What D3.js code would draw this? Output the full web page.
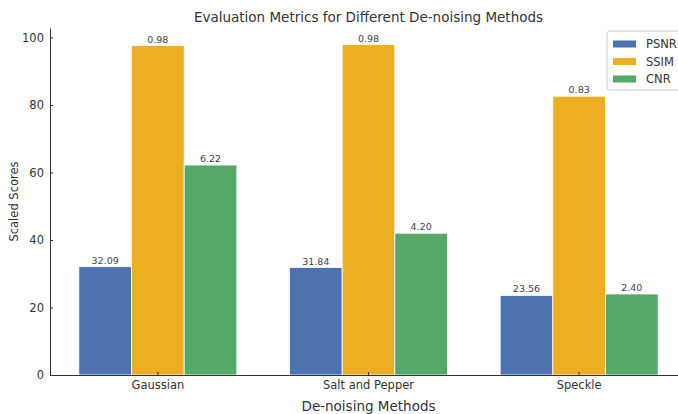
<!DOCTYPE html>
<html>
<head>
<meta charset="utf-8">
<script src="https://cdn.jsdelivr.net/npm/d3@7"></script>
<style>
  body { margin: 0; background: #fff; }
  text { font-family: "DejaVu Sans", sans-serif; fill: #333; }
</style>
</head>
<body>
<div id="container"></div>
<script>
// data
const methods = ["Gaussian", "Salt and Pepper", "Speckle"]
const metrics = ["PSNR", "SSIM", "CNR"]
const psnr = [32.09, 31.84, 23.56]
const ssim = [0.976, 0.979, 0.826]
const cnr = [6.22, 4.20, 2.40]
const scaleFactors = [1, 100, 10]   // how each metric is scaled for plotting
const colors = ["#4c72b0", "#ecae22", "#55a868"]
const yTicks = [0, 20, 40, 60, 80, 100]

const width = 678, height = 414
const margin = {top: 28, right: -9, bottom: 39, left: 50}

const values = [psnr, ssim, cnr]
const rows = methods.map((m, i) => ({
  method: m,
  bars: metrics.map((k, j) => ({key: k, raw: values[j][i], scaled: values[j][i] * scaleFactors[j], color: colors[j]}))
}))

const svg = d3.select("#container")
  .append("svg")
    .attr("width", width)
    .attr("height", height)

const x0 = d3.scaleBand()
  .domain(methods)
  .range([margin.left, width - margin.right])
  .paddingInner(0.25)
  .paddingOuter(0.137)

const x1 = d3.scaleBand()
  .domain(metrics)
  .range([0, x0.bandwidth()])

const yMax = d3.max(rows, r => d3.max(r.bars, b => b.scaled)) * 1.05
const y = d3.scaleLinear()
  .domain([0, yMax])
  .range([height - margin.bottom, margin.top])

// BARS
const groups = svg.selectAll("g.group")
  .data(rows)
  .enter()
  .append("g")
    .attr("class", "group")
    .attr("transform", d => "translate(" + x0(d.method) + ",0)")

groups.selectAll("rect")
  .data(d => d.bars)
  .enter()
  .append("rect")
    .attr("x", d => x1(d.key))
    .attr("y", d => y(d.scaled))
    .attr("width", x1.bandwidth())
    .attr("height", d => y(0) - y(d.scaled))
    .attr("fill", d => d.color)
    .attr("stroke", "#fff")
    .attr("stroke-width", 0.8)

groups.selectAll("text.val")
  .data(d => d.bars)
  .enter()
  .append("text")
    .attr("class", "val")
    .attr("x", d => x1(d.key) + x1.bandwidth() / 2)
    .attr("y", d => y(d.scaled) - 3)
    .attr("text-anchor", "middle")
    .style("font-size", "9.5px")
    .style("fill", "#444")
    .text(d => d.raw.toFixed(2))

// AXES
const xAxis = svg.append("g")
  .attr("transform", "translate(0," + y(0) + ")")
  .call(d3.axisBottom(x0).tickSizeInner(-3).tickSizeOuter(0).tickPadding(6))
xAxis.select(".domain").attr("stroke", "#333")
xAxis.selectAll(".tick line").attr("stroke", "#333")
xAxis.selectAll(".tick text").style("font-size", "11.5px").style("fill", "#333")

const yAxis = svg.append("g")
  .attr("transform", "translate(" + margin.left + ",0)")
  .call(d3.axisLeft(y).tickValues(yTicks).tickSizeInner(-3).tickSizeOuter(0).tickPadding(6))
yAxis.select(".domain").attr("stroke", "#333")
yAxis.selectAll(".tick line").attr("stroke", "#333")
yAxis.selectAll(".tick text").style("font-size", "11.5px").style("fill", "#333")

// LABELS
svg.append("text")
  .attr("text-anchor", "middle")
  .attr("x", (margin.left + width - margin.right) / 2)
  .attr("y", 22)
  .style("font-size", "13.5px")
  .text("Evaluation Metrics for Different De-noising Methods")

svg.append("text")
  .attr("text-anchor", "middle")
  .attr("x", (margin.left + width - margin.right) / 2)
  .attr("y", 411)
  .style("font-size", "13.5px")
  .text("De-noising Methods")

svg.append("text")
  .attr("text-anchor", "middle")
  .attr("transform", "translate(18," + (margin.top + height - margin.bottom) / 2 + ") rotate(-90)")
  .style("font-size", "11.5px")
  .text("Scaled Scores")

// LEGEND
const legend = svg.append("g").attr("transform", "translate(607,31)")
legend.append("rect")
  .attr("width", 80).attr("height", 59)
  .attr("rx", 3)
  .attr("fill", "#fff").attr("fill-opacity", 0.8)
  .attr("stroke", "#ccc")

metrics.forEach((k, i) => {
  const g = legend.append("g").attr("transform", "translate(6," + (13 + i * 17.5) + ")")
  g.append("rect")
    .attr("y", -3.5).attr("width", 23).attr("height", 7)
    .attr("fill", colors[i])
  g.append("text")
    .attr("x", 33).attr("dy", "0.35em")
    .style("font-size", "11.5px")
    .text(k)
})
</script>
</body>
</html>
